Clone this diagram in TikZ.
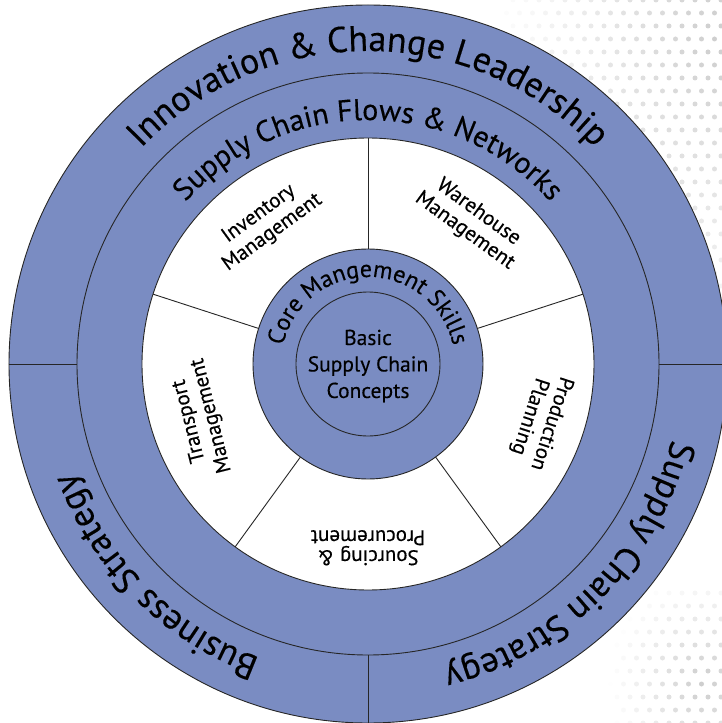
\documentclass[tikz,border=0pt]{standalone}
\usepackage{fontspec}
\setmainfont{PT Sans}[FakeBold=0.3]
\usepackage{tikz}
\usetikzlibrary{calc,decorations.text}
\definecolor{ringblue}{RGB}{122,140,194}
\definecolor{dotgrey}{RGB}{205,205,205}

\begin{document}
\begin{tikzpicture}[x=1pt,y=1pt,
    rim/.style={draw=black!85, line width=0.9pt},
    seclabel/.style={align=center, font=\fontsize{21}{23}\selectfont, inner sep=0pt},
    curved/.style 2 args={decorate, decoration={text along path, text align=center,
        text={|\fontsize{#1}{#1}\selectfont|#2}}}]
  \useasboundingbox (-368,-359) rectangle (353,364);
  \coordinate (O) at (0,0);
  % faint halftone dots in the corners
  \foreach \i in {0,...,16}{
    \foreach \j in {0,...,27}{
      \pgfmathsetmacro{\px}{353-\i*13-mod(\j,2)*6.5}
      \pgfmathsetmacro{\py}{364-\j*13}
      \pgfmathtruncatemacro{\pct}{max(0,100*(1-veclen((\px-353)/230,(\py-330)/340)))}
      \fill[dotgrey!\pct!white] (\px,\py) circle (2.5pt);
    }
  }
  \foreach \i in {0,...,8}{
    \foreach \j in {0,...,10}{
      \pgfmathsetmacro{\px}{353-\i*13-mod(\j,2)*6.5}
      \pgfmathsetmacro{\py}{-359+\j*13}
      \pgfmathtruncatemacro{\pct}{max(0,100*(1-veclen((\px-335)/95,(\py+320)/115)))}
      \fill[dotgrey!\pct!white] (\px,\py) circle (2.5pt);
    }
  }
  % rings
  \fill[ringblue] (O) circle (359pt);
  \draw[rim] (O) circle (359pt);
  \draw[rim] (O) circle (291pt);
  \filldraw[rim, fill=white] (O) circle (226pt);
  \filldraw[rim, fill=ringblue] (O) circle (115pt);
  \draw[rim] (O) circle (72pt);
  % dividers
  \foreach \a in {0,180,270}
    \draw[rim] (\a:291pt) -- (\a:359pt);
  \foreach \a in {18,90,162,234,306}
    \draw[rim] (\a:115pt) -- (\a:226pt);
  % ring titles
  \path[curved={36}{Innovation {\&} Change Leadership}]
    (180:313pt) arc[start angle=180, end angle=0, radius=313pt];
  \path[curved={36}{Business Strategy}]
    (270:313pt) arc[start angle=270, end angle=180, radius=313pt];
  \path[curved={36}{Supply Chain Strategy}]
    (360:313pt) arc[start angle=360, end angle=270, radius=313pt];
  \path[curved={30}{Supply Chain Flows {\&} Networks}]
    (180:244pt) arc[start angle=180, end angle=0, radius=244pt];
  \path[curved={24}{Core Mangement Skills}]
    (180:87pt) arc[start angle=180, end angle=0, radius=87pt];
  % sectors
  \node[seclabel, rotate=36] (inv) at (126:174pt) {Inventory\\Management};
  \node[seclabel, rotate=-36] (ware) at (54:176pt) {Warehouse\\Management};
  \node[seclabel, rotate=-108] (prod) at (-18:181pt) {Production\\Planning};
  \node[seclabel, rotate=180] (sour) at (270:181pt)
    {\begin{tabular}{@{}c@{}}Sourcing \&\\[-3pt]Procurement\end{tabular}};
  \node[seclabel, rotate=104] (trans) at (198:176pt) {Transport\\Management};
  \node[align=center, font=\fontsize{21.5}{26.5}\selectfont] (basic) at (0,-2) {Basic\\Supply Chain\\Concepts};
\end{tikzpicture}
\end{document}
